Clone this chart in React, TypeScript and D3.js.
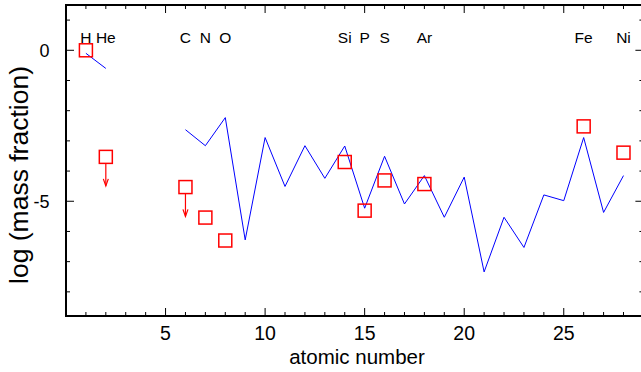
import React from "react";
import * as d3 from "d3";

const W = 641;
const H = 372;

// Model (blue line) — two segments
const modelZ1 = [1, 2];
const modelY1 = [-0.1, -0.6];
const modelZ2 = [6, 7, 8, 9, 10, 11, 12, 13, 14, 15, 16, 17, 18, 19, 20, 21, 22, 23, 24, 25, 26, 27, 28];
const modelY2 = [-2.63, -3.16, -2.23, -6.28, -2.89, -4.51, -3.16, -4.24, -3.17, -5.23, -3.51, -5.09, -4.15, -5.53, -4.2, -7.34, -5.53, -6.53, -4.79, -4.98, -2.89, -5.37, -4.15];

// Observed (red squares)
const obsZ = [1, 2, 6, 7, 8, 14, 15, 16, 18, 26, 28];
const obsY = [0.0, -3.53, -4.53, -5.54, -6.3, -3.7, -5.31, -4.31, -4.43, -2.52, -3.39];
// Upper limits (arrows)
const limitZ = [2, 6];
const limitFrom = [-3.53, -4.53];
const limitTip = [-4.49, -5.5];

// Element labels
const elemZ = [1, 2, 6, 7, 8, 14, 15, 16, 18, 26, 28];
const elemName = ["H", "He", "C", "N", "O", "Si", "P", "S", "Ar", "Fe", "Ni"];

const xTickMajor = [5, 10, 15, 20, 25];
const yTickMajor = [0, -5];

const FONT = "'Liberation Sans', Arial, Helvetica, sans-serif";

export default function App() {
  const x = d3.scaleLinear().domain([0, 29]).range([66, 643.4]);
  const y = d3.scaleLinear().domain([1.5, -8.8]).range([5, 316]);
  const L = x(0), R = x(29), T = y(1.5), B = y(-8.8);

  const line = d3.line<[number, number]>().x((d) => x(d[0])).y((d) => y(d[1]));
  const seg1 = line(modelZ1.map((z, i) => [z, modelY1[i]] as [number, number])) || "";
  const seg2 = line(modelZ2.map((z, i) => [z, modelY2[i]] as [number, number])) || "";

  const xTicks = d3.range(1, 29);
  const yTicks = d3.range(-8, 2);
  const sq = 13;

  return (
    <svg width={W} height={H} style={{ position: "absolute", left: 0, top: 0, background: "#fff" }}>
      {/* frame */}
      <line x1={L} x2={L} y1={T - 1} y2={B + 1} stroke="#000" strokeWidth={2} />
      <line x1={L - 1} x2={R} y1={B} y2={B} stroke="#000" strokeWidth={2} />
      <line x1={L - 1} x2={R} y1={T} y2={T} stroke="#000" strokeWidth={2} />
      <line x1={R} x2={R} y1={T} y2={B} stroke="#000" strokeWidth={2} />
      {/* x ticks */}
      {xTicks.map((t) => {
        const len = xTickMajor.includes(t) ? 8 : 4;
        return (
          <g key={"xt" + t}>
            <line x1={x(t)} x2={x(t)} y1={B} y2={B - len} stroke="#000" strokeWidth={1} />
            <line x1={x(t)} x2={x(t)} y1={T} y2={T + len} stroke="#000" strokeWidth={1} />
          </g>
        );
      })}
      {/* y ticks */}
      {yTicks.map((t) => {
        const len = yTickMajor.includes(t) ? 8 : 4;
        return (
          <g key={"yt" + t}>
            <line x1={L} x2={L + len} y1={y(t)} y2={y(t)} stroke="#000" strokeWidth={1} />
            <line x1={R} x2={R - len} y1={y(t)} y2={y(t)} stroke="#000" strokeWidth={1} />
          </g>
        );
      })}
      {/* x tick labels */}
      {xTickMajor.map((t) => (
        <text key={"xl" + t} x={x(t)} y={339.5} textAnchor="middle" fontFamily={FONT} fontSize={19.5} fill="#000">
          {t}
        </text>
      ))}
      {/* y tick labels */}
      {yTickMajor.map((t) => (
        <text key={"yl" + t} x={49.5} y={y(t)} dy="0.35em" textAnchor="end" fontFamily={FONT} fontSize={18} fill="#000">
          {t === 0 ? "0" : "-" + Math.abs(t)}
        </text>
      ))}
      {/* axis titles */}
      <text x={357} y={364.3} textAnchor="middle" fontFamily={FONT} fontSize={20.5} fill="#000">
        atomic number
      </text>
      <text
        transform={`translate(28,175) rotate(-90)`}
        textAnchor="middle"
        fontFamily={FONT}
        fontSize={26.5}
        fill="#000"
      >
        log (mass fraction)
      </text>
      {/* element labels */}
      {elemZ.map((z, i) => (
        <text key={"el" + z} x={x(z)} y={42.7} textAnchor="middle" fontFamily={FONT} fontSize={15.5} fill="#000">
          {elemName[i]}
        </text>
      ))}
      {/* model line */}
      <path d={seg1} fill="none" stroke="#0000ff" strokeWidth={1} />
      <path d={seg2} fill="none" stroke="#0000ff" strokeWidth={1} />
      {/* upper limit arrows */}
      {limitZ.map((z, i) => {
        const cx = x(z);
        const y0 = y(limitFrom[i]) + sq / 2;
        const y1 = y(limitTip[i]);
        return (
          <g key={"ar" + z} stroke="#ff0000" strokeWidth={1.2} fill="none">
            <line x1={cx} x2={cx} y1={y0} y2={y1} />
            <path d={`M${cx - 2.5},${y1 - 7} L${cx},${y1} L${cx + 2.5},${y1 - 7}`} />
          </g>
        );
      })}
      {/* observed squares */}
      {obsZ.map((z, i) => (
        <rect
          key={"ob" + z}
          x={x(z) - sq / 2}
          y={y(obsY[i]) - sq / 2}
          width={sq}
          height={sq}
          fill="none"
          stroke="#ff0000"
          strokeWidth={1.5}
        />
      ))}
    </svg>
  );
}
